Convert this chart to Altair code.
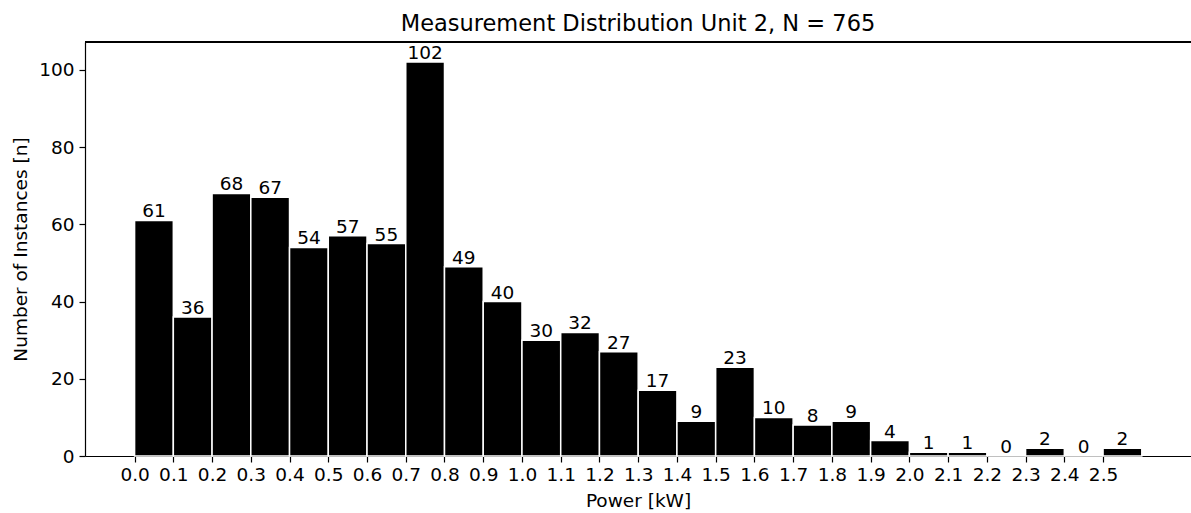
import altair as alt
import pandas as pd

bin_start = [0.0, 0.1, 0.2, 0.3, 0.4, 0.5, 0.6, 0.7, 0.8, 0.9, 1.0, 1.1, 1.2,
             1.3, 1.4, 1.5, 1.6, 1.7, 1.8, 1.9, 2.0, 2.1, 2.2, 2.3, 2.4, 2.5]
bin_end = [0.1, 0.2, 0.3, 0.4, 0.5, 0.6, 0.7, 0.8, 0.9, 1.0, 1.1, 1.2, 1.3,
           1.4, 1.5, 1.6, 1.7, 1.8, 1.9, 2.0, 2.1, 2.2, 2.3, 2.4, 2.5, 2.6]
counts = [61, 36, 68, 67, 54, 57, 55, 102, 49, 40, 30, 32, 27,
          17, 9, 23, 10, 8, 9, 4, 1, 1, 0, 2, 0, 2]
x_ticks = [0.0, 0.1, 0.2, 0.3, 0.4, 0.5, 0.6, 0.7, 0.8, 0.9, 1.0, 1.1, 1.2,
           1.3, 1.4, 1.5, 1.6, 1.7, 1.8, 1.9, 2.0, 2.1, 2.2, 2.3, 2.4, 2.5]
y_ticks = [0, 20, 40, 60, 80, 100]

df = pd.DataFrame({"start": bin_start, "end": bin_end, "count": counts})
df["mid"] = (df["start"] + df["end"]) / 2

FONT = "DejaVu Sans"
FS = 18.5
W, H = 1106, 414

xscale = alt.Scale(domain=[-0.128, 2.727], nice=False, zero=False)
yscale = alt.Scale(domain=[0, 107.2], nice=False)

bars = alt.Chart(df).mark_rect(color="black", stroke="white", strokeWidth=1.5).encode(
    x=alt.X("start:Q", scale=xscale,
            axis=alt.Axis(values=x_ticks, format=".1f", title="Power [kW]",
                          labelOverlap=False, labelFlush=False,
                          tickSize=6, tickColor="black", tickWidth=1.2,
                          domainColor="black", domainWidth=1.2,
                          labelFont=FONT, labelFontSize=FS, labelColor="black",
                          labelPadding=3,
                          titleFont=FONT, titleFontSize=FS, titleFontWeight="normal",
                          titleColor="black", titlePadding=8, grid=False)),
    x2="end:Q",
    y=alt.Y("count:Q", scale=yscale,
            axis=alt.Axis(values=y_ticks, title="Number of Instances [n]",
                          tickSize=6, tickColor="black", tickWidth=1.2,
                          domainColor="black", domainWidth=1.2,
                          labelFont=FONT, labelFontSize=FS, labelColor="black",
                          labelPadding=5,
                          titleFont=FONT, titleFontSize=FS, titleFontWeight="normal",
                          titleColor="black", titlePadding=8, grid=False)),
    y2=alt.datum(0),
)

labels = alt.Chart(df).mark_text(font=FONT, fontSize=FS, color="black",
                                 baseline="alphabetic", dy=-3).encode(
    x=alt.X("mid:Q", scale=xscale),
    y=alt.Y("count:Q", scale=yscale),
    text=alt.Text("count:Q"),
)

top_line = alt.Chart(df).mark_rule(color="black", strokeWidth=1.2).encode(
    x=alt.value(0), x2=alt.value(W), y=alt.value(0)
)

chart = alt.layer(bars, labels, top_line).properties(
    width=W, height=H,
    autosize=alt.AutoSizeParams(type="none"),
    padding={"left": 85, "top": 42, "right": 0, "bottom": 57},
    title=alt.TitleParams("Measurement Distribution Unit 2, N = 765",
                          font=FONT, fontSize=22.5, fontWeight="normal",
                          color="black", anchor="middle", offset=6),
).configure_view(stroke=None).configure(background="white")

chart.save("out.html", embed_options={"renderer": "svg", "actions": False})
